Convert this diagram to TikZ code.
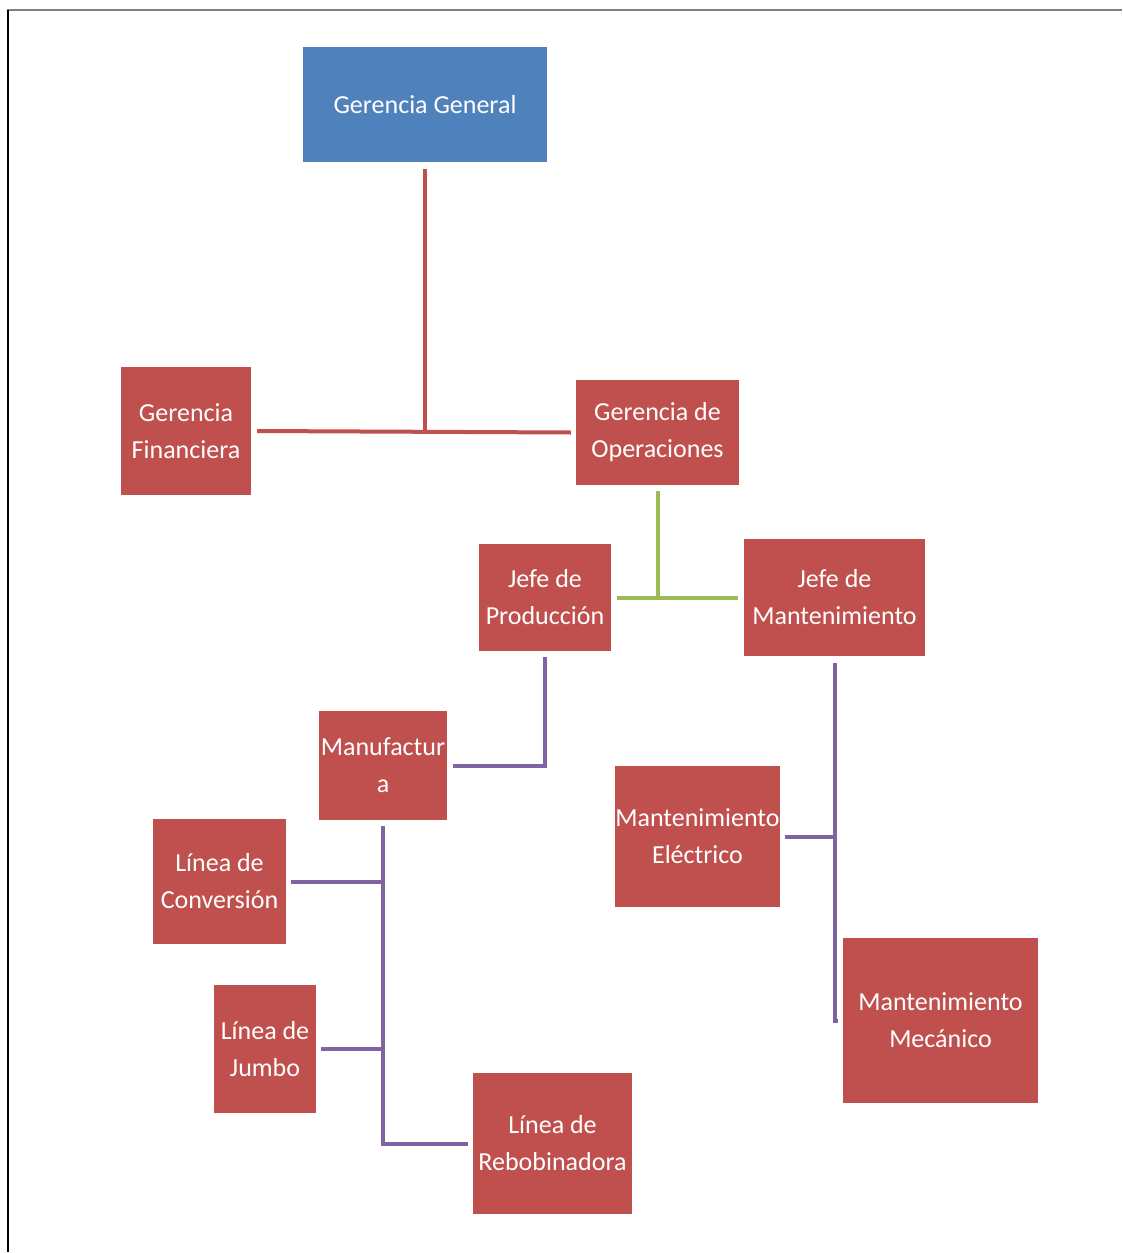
\documentclass[tikz,border=0pt]{standalone}
\usepackage{fontspec}
\setmainfont{Carlito}
\definecolor{boxred}{HTML}{C0504D}
\definecolor{boxblue}{HTML}{4F81BD}
\definecolor{lngreen}{HTML}{9BBB59}
\definecolor{lnpurple}{HTML}{8064A2}
\begin{document}
\begin{tikzpicture}[x=1pt,y=-1pt,
  orgbox/.style={rectangle, fill=boxred, draw=none, inner sep=0pt, text=white,
    align=center, font=\fontsize{26}{37}\selectfont},
  redline/.style={draw=boxred, line width=4pt},
  greenline/.style={draw=lngreen, line width=4pt},
  purpleline/.style={draw=lnpurple, line width=4pt}]
\useasboundingbox (0,0) rectangle (1122,1253);
% frame
\draw[gray, line width=2pt] (7,10) -- (1122,10);
\draw[black, line width=1.5pt] (8,10) -- (8,1252);
% boxes
\node[orgbox, fill=boxblue, minimum width=244pt, minimum height=115pt] (gg) at (425,104.5) {Gerencia General};
\node[orgbox, minimum width=130pt, minimum height=128pt] (gf) at (186,431) {Gerencia\\Financiera};
\node[orgbox, minimum width=163pt, minimum height=105pt] (go) at (657.5,432.5) {Gerencia de\\Operaciones};
\node[orgbox, minimum width=132pt, minimum height=107pt] (jp) at (545,597.5) {Jefe de\\Producción};
\node[orgbox, minimum width=181pt, minimum height=117pt] (jm) at (834.5,597.5) {Jefe de\\Mantenimiento};
\node[orgbox, minimum width=128pt, minimum height=109pt] (mf) at (383,765.5) {Manufactur\\a};
\node[orgbox, minimum width=133pt, minimum height=125pt] (lc) at (219.5,881.5) {Línea de\\Conversión};
\node[orgbox, minimum width=102pt, minimum height=128pt] (lj) at (265,1049) {Línea de\\Jumbo};
\node[orgbox, minimum width=159pt, minimum height=141pt] (lr) at (552.5,1143.5) {Línea de\\Rebobinadora};
\node[orgbox, minimum width=163pt, minimum height=141pt] (me) at (697.5,836.5) {Mantenimiento\\Eléctrico};
\node[orgbox, minimum width=195pt, minimum height=165pt] (mm) at (940.5,1020.5) {Mantenimiento\\Mecánico};
% connectors
\draw[redline] ([yshift=-7pt]gg.south) -- (gg.south |- gf.east);
\draw[redline] ([xshift=6pt]gf.east) -- ([xshift=-5pt]go.west);
\draw[greenline] ([yshift=-6pt]go.south) -- (go.south |- jp.east);
\draw[greenline] ([xshift=6pt]jp.east) -- ([xshift=-6pt]jm.west);
\draw[purpleline] ([yshift=-6pt]jp.south) |- ([xshift=6pt]mf.east);
\draw[purpleline] ([yshift=-6pt]mf.south) |- ([xshift=-5pt]lr.west);
\draw[purpleline] ([xshift=5pt]lc.east) -- (lc.east -| mf.south);
\draw[purpleline] ([xshift=5pt]lj.east) -- (lj.east -| mf.south);
\draw[purpleline] ([yshift=-7pt]jm.south) |- ([xshift=-5pt]mm.west);
\draw[purpleline] ([xshift=5pt]me.east) -- (me.east -| jm.south);
\end{tikzpicture}
\end{document}
